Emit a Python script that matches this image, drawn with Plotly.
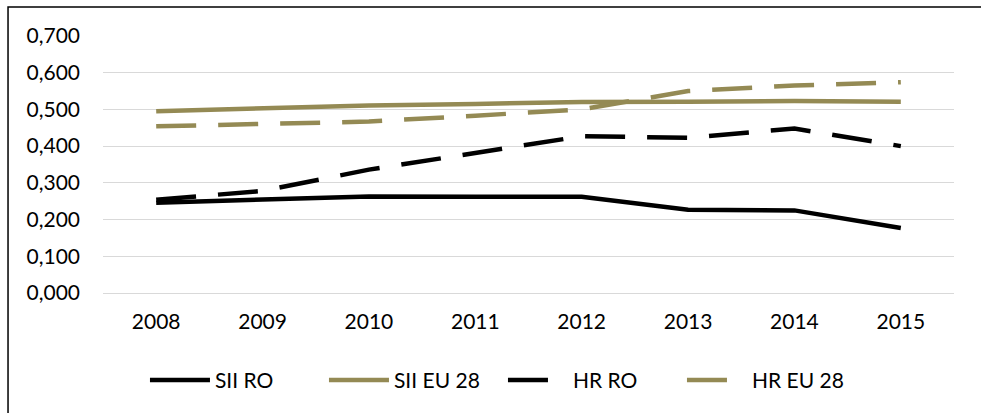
import plotly.graph_objects as go

years = ["2008", "2009", "2010", "2011", "2012", "2013", "2014", "2015"]
sii_ro = [0.246, 0.255, 0.263, 0.262, 0.262, 0.227, 0.225, 0.177]
sii_eu28 = [0.495, 0.503, 0.511, 0.515, 0.520, 0.521, 0.523, 0.521]
hr_ro = [0.254, 0.278, 0.336, 0.380, 0.427, 0.423, 0.448, 0.400]
hr_eu28 = [0.454, 0.462, 0.467, 0.483, 0.500, 0.550, 0.565, 0.574]
y_ticks = [0.0, 0.1, 0.2, 0.3, 0.4, 0.5, 0.6, 0.7]

BLACK = "#000000"
OLIVE = "#948A54"
FONT = "Lato"
DASH = "40px,22px"

fig = go.Figure()
series = [
    ("SII RO", sii_ro, BLACK, "solid"),
    ("SII EU 28", sii_eu28, OLIVE, "solid"),
    ("HR RO", hr_ro, BLACK, DASH),
    ("HR EU 28", hr_eu28, OLIVE, DASH),
]
for name, vals, col, dash in series:
    fig.add_trace(go.Scatter(
        x=years, y=vals, name=name, mode="lines",
        line=dict(color=col, width=4.5, dash=dash),
        hoverinfo="x+y+name",
    ))

fig.update_layout(
    width=981, height=413,
    margin=dict(l=103, r=27, t=36, b=120),
    paper_bgcolor="white", plot_bgcolor="white",
    separators=",.",
    font=dict(family=FONT, size=21, color="#000000"),
    showlegend=True,
    legend=dict(
        orientation="h", x=0.47, xanchor="center", y=-0.34, yanchor="middle",
        font=dict(family=FONT, size=21, color="#000000"),
        itemwidth=60, tracegroupgap=0, entrywidth=104,
        bgcolor="rgba(0,0,0,0)",
    ),
    xaxis=dict(
        type="category", range=[-0.5, 7.5],
        showgrid=False, showline=False, zeroline=False,
        ticks="", ticklabelstandoff=14,
        tickfont=dict(family=FONT, size=21, color="#000000"),
    ),
    yaxis=dict(
        range=[0, 0.7], tickvals=y_ticks, tickformat=".3f",
        showgrid=True, gridcolor="#D9D9D9", gridwidth=1.3,
        zeroline=True, zerolinecolor="#D9D9D9", zerolinewidth=1.3,
        showline=False, ticks="", ticklabelstandoff=22,
        tickfont=dict(family=FONT, size=21, color="#000000"),
    ),
    shapes=[dict(
        type="path", xref="paper", yref="paper",
        path="M -0.1116,-0.6 L -0.1116,1.1127 L 1.2,1.1127",
        line=dict(color="#000000", width=1.5),
    )],
)

fig.write_html(
    "out.html",
    config={"displayModeBar": False},
    post_script="document.body.style.margin='0';",
)
